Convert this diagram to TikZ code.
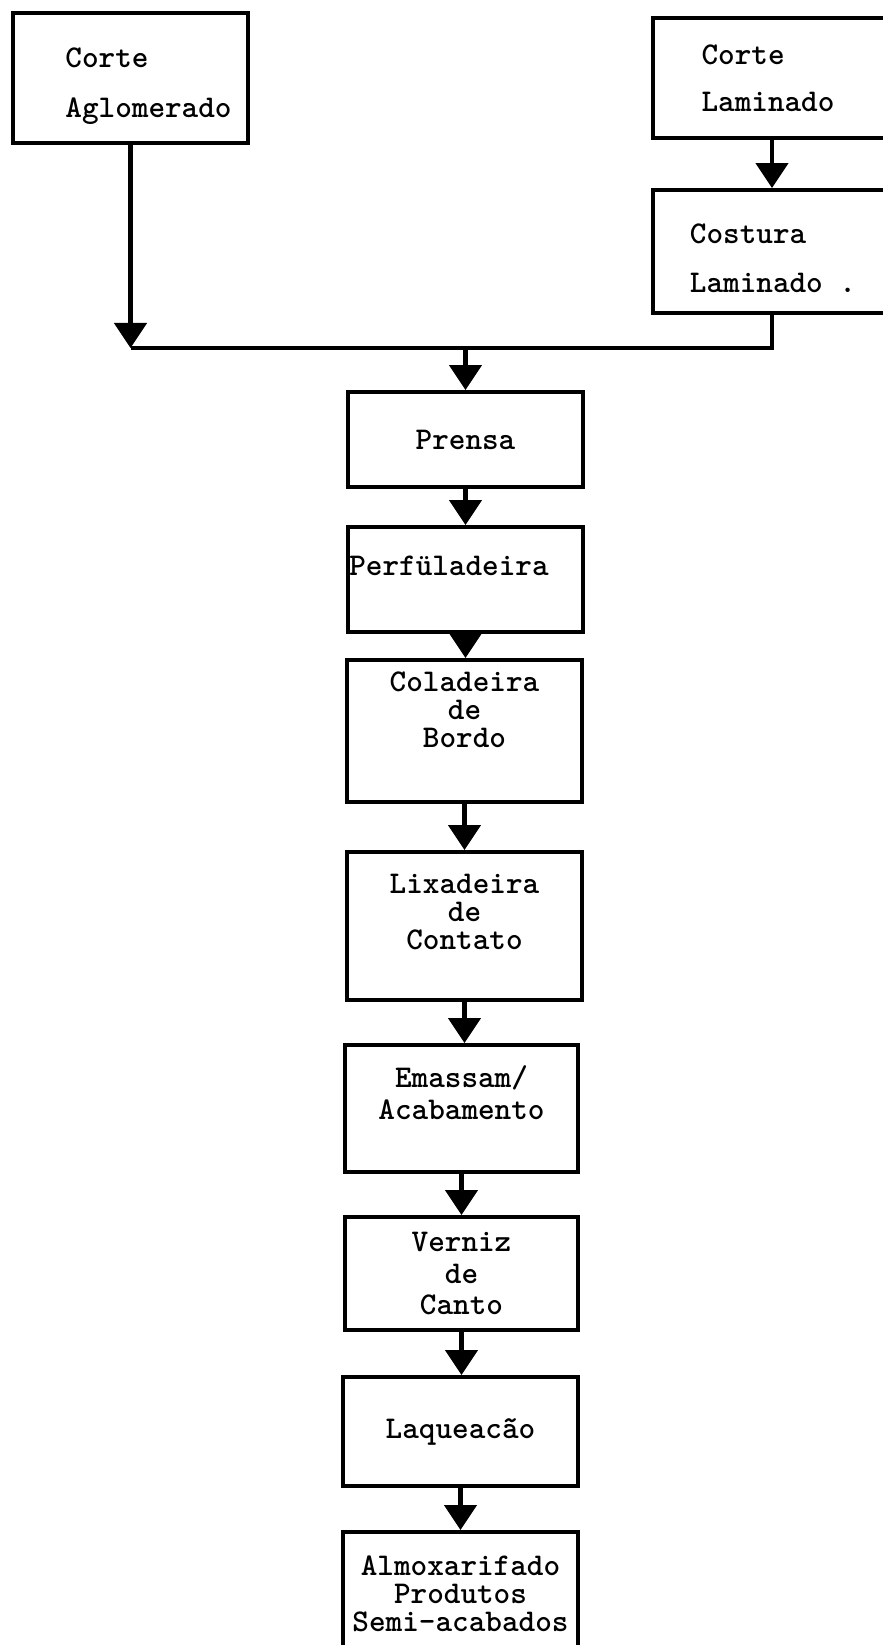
\documentclass[tikz,border=0pt]{standalone}
\usepackage{fontspec}
\usetikzlibrary{arrows.meta}
\begin{document}
\begin{tikzpicture}[x=0.01cm,y=-0.01cm,
    stage/.style={draw, line width=1.1pt, minimum width=2.35cm, inner sep=0pt, align=center,
      font=\fontsize{9}{8}\selectfont\ttfamily\bfseries},
    flow/.style={line width=1.3pt, -{Triangle[length=0.25cm,width=0.32cm]}},
    link/.style={line width=1.3pt}]
\useasboundingbox (0,0) rectangle (883,1645);
\clip (0,0) rectangle (883,1645);

\node[stage, minimum height=1.30cm, align=left] (agl) at (130.5,78)
  {\hspace*{0.36cm}\rule{0pt}{10pt}Corte\\[6.2pt]\hspace*{0.36cm}Aglomerado};
\node[stage, minimum width=2.5cm, minimum height=1.20cm, align=left] (cl) at (778,78)
  {Corte\\[5.5pt]Laminado\hspace*{0.2cm}};
\node[stage, minimum width=2.5cm, minimum height=1.23cm, align=left] (cos) at (778,251.5)
  {\rule{0pt}{9.5pt}Costura\\[6pt]Laminado .\hspace*{0.1cm}};

\node[stage, minimum height=0.95cm] (prensa) at (465.5,439.5) {Prensa};
\node[stage, minimum height=1.05cm] (perf) at (465.5,579.5) {Perfüladeira\hspace*{0.33cm}\\ \mbox{}};
\node[stage, minimum height=1.42cm] (col) at (464.5,731) {Coladeira\\de\\Bordo\\[4pt] \mbox{}};
\node[stage, minimum height=1.48cm] (lix) at (464.5,926) {Lixadeira\\de\\Contato\\ \mbox{}};
\node[stage, minimum width=2.33cm, minimum height=1.27cm] (ema) at (461.5,1108.5)
  {Emassam/\\[1pt]Acabamento\\[1pt] \mbox{}};
\node[stage, minimum width=2.33cm, minimum height=1.13cm] (ver) at (461.5,1273.5)
  {Verniz\\[1pt]de\\[1pt]Canto};
\node[stage, minimum width=2.35cm, minimum height=1.09cm] (laq) at (460.5,1431.5) {Laqueacão};
\node[stage, minimum width=2.35cm, minimum height=1.24cm] (alm) at (460.5,1594)
  {Almoxarifado\\Produtos\\Semi-acabados};

\coordinate (jn) at (467,348);

\draw[flow] (cl.south -| 772,0) -- (cos.north -| 772,0);
\draw[flow] (agl.south) -- (agl.south |- jn);
\draw[link] (agl.south |- jn) -- (772,348) -- (cos.south -| 772,0);
\draw[flow] (prensa.north |- jn) -- (prensa.north);

\foreach \a/\b in {prensa/perf, perf/col, col/lix, lix/ema, ema/ver, ver/laq, laq/alm}
  \draw[flow] (\a.south) -- (\a.south |- \b.north);

\end{tikzpicture}
\end{document}
